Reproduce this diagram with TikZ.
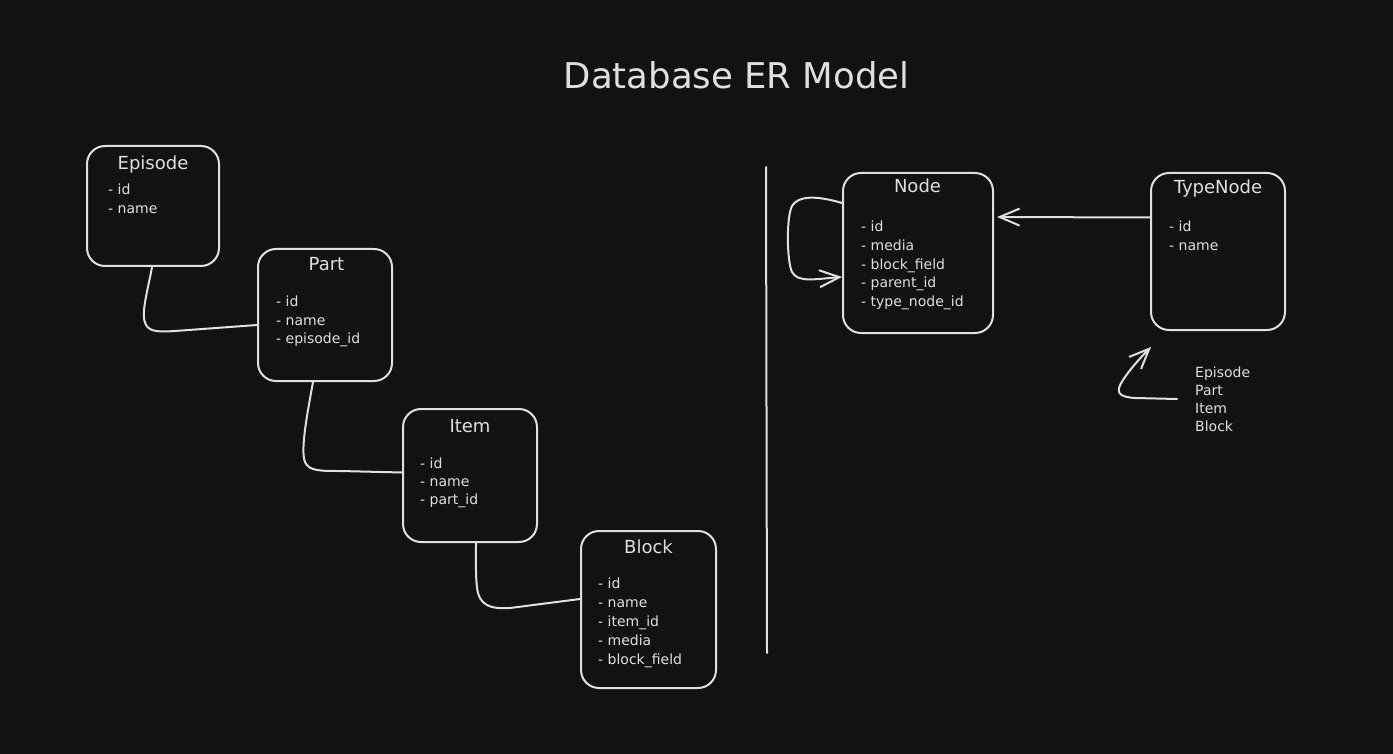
\documentclass[tikz,border=0pt]{standalone}
\usepackage{fontspec}
\setmainfont{DejaVu Sans}
\usetikzlibrary{arrows.meta,calc}
\definecolor{bgc}{HTML}{121212}
\definecolor{fgc}{HTML}{E0E0E0}
\tikzset{
  stroke/.style={draw=fgc, line width=2pt, line cap=round, line join=round},
  erbox/.style={stroke, rounded corners=18pt, inner sep=0pt},
  ttl/.style={text=fgc, anchor=base, inner sep=0pt, font=\fontsize{18}{20}\selectfont},
  fld/.style={text=fgc, anchor=base west, inner sep=0pt, font=\fontsize{14}{16}\selectfont},
  conn/.style={stroke},
  arr/.style={stroke, -{Straight Barb[length=20pt, width=17pt, line width=2pt]}},
}
\begin{document}
\begin{tikzpicture}[x=1pt,y=-1pt]
\fill[bgc] (0,0) rectangle (1393,754);
\useasboundingbox (0,0) rectangle (1393,754);

% title
\node[text=fgc, anchor=base, inner sep=0pt, font=\fontsize{35.5}{40}\selectfont] (title) at (736.5,89) {Database ER Model};

% Episode
\node[erbox, minimum width=132, minimum height=120] (ep) at (153,206) {};
\node[ttl] (ep-t) at (153,169.5) {Episode};
\foreach \f [count=\i] in {id,name}
  \node[fld] (ep-\i) at (108,{195+19*(\i-1)}) {- \f};

% Part
\node[erbox, minimum width=134, minimum height=132] (pt) at (325,315) {};
\node[ttl] (pt-t) at (326.5,271) {Part};
\foreach \f [count=\i] in {id,name,episode\_id}
  \node[fld] (pt-\i) at (276,{306.5+18.7*(\i-1)}) {- \f};

% Item
\node[erbox, minimum width=134, minimum height=133] (it) at (470,475.5) {};
\node[ttl] (it-t) at (470,432) {Item};
\foreach \f [count=\i] in {id,name,part\_id}
  \node[fld] (it-\i) at (420,{468+18.3*(\i-1)}) {- \f};

% Block
\node[erbox, minimum width=135, minimum height=157] (bl) at (648.5,609.5) {};
\node[ttl] (bl-t) at (648.5,553) {Block};
\foreach \f [count=\i] in {id,name,item\_id,media,block\_field}
  \node[fld] (bl-\i) at (598,{588+19*(\i-1)}) {- \f};

% Node
\node[erbox, minimum width=150, minimum height=160] (nd) at (918,253) {};
\node[ttl] (nd-t) at (917.5,193) {Node};
\foreach \f [count=\i] in {id,media,block\_field,parent\_id,type\_node\_id}
  \node[fld] (nd-\i) at (861,{232+18.6*(\i-1)}) {- \f};

% TypeNode
\node[erbox, minimum width=134, minimum height=157] (tn) at (1218,251.5) {};
\node[ttl] (tn-t) at (1218,194) {TypeNode};
\foreach \f [count=\i] in {id,name}
  \node[fld] (tn-\i) at (1169,{231.5+18.7*(\i-1)}) {- \f};

% list of types
\foreach \f [count=\i] in {Episode,Part,Item,Block}
  \node[fld] (ls-\i) at (1195,{377+18.3*(\i-1)}) {\f};

% divider
\draw[stroke] (766,167) -- (767,653);

% connectors
\draw[conn] ($(ep.south)+(-1,0)$) .. controls (148,290) and (140,315) .. (146,325)
  .. controls (150,332) and (160,332) .. (175,331) -- ($(pt.west)+(0,10)$);
\draw[conn] ($(pt.south)+(-12,0)$) .. controls (308,410) and (300,450) .. (305,462)
  .. controls (309,471) and (320,471) .. (340,471) -- ($(it.west)+(0,-3)$);
\draw[conn] ($(it.south)+(6,0)$) .. controls (476,565) and (475,590) .. (480,598)
  .. controls (485,607) and (495,609) .. (510,608) -- ($(bl.west)+(0,-10.5)$);

% self loop on Node
\draw[arr] ($(nd.west)+(0,-50)$) .. controls (815,195) and (798,196) .. (792,206)
  .. controls (786,218) and (787,262) .. (792,272)
  .. controls (798,283) and (815,279) .. ($(nd.west)+(0,24)$);

% TypeNode -> Node
\draw[arr] ($(tn.west)+(0,-34)$) -- ($(nd.east)+(3,-36)$);

% pointer from list to TypeNode
\coordinate (s1) at (1177,399);
\coordinate (s2) at ($(tn.south west)+(1,16)$);
\draw[arr] (s1) -- (1135,398) .. controls (1118,397) and (1115,392) .. (1123,380)
  .. controls (1130,369) and (1142,356) .. (s2);
\end{tikzpicture}
\end{document}
